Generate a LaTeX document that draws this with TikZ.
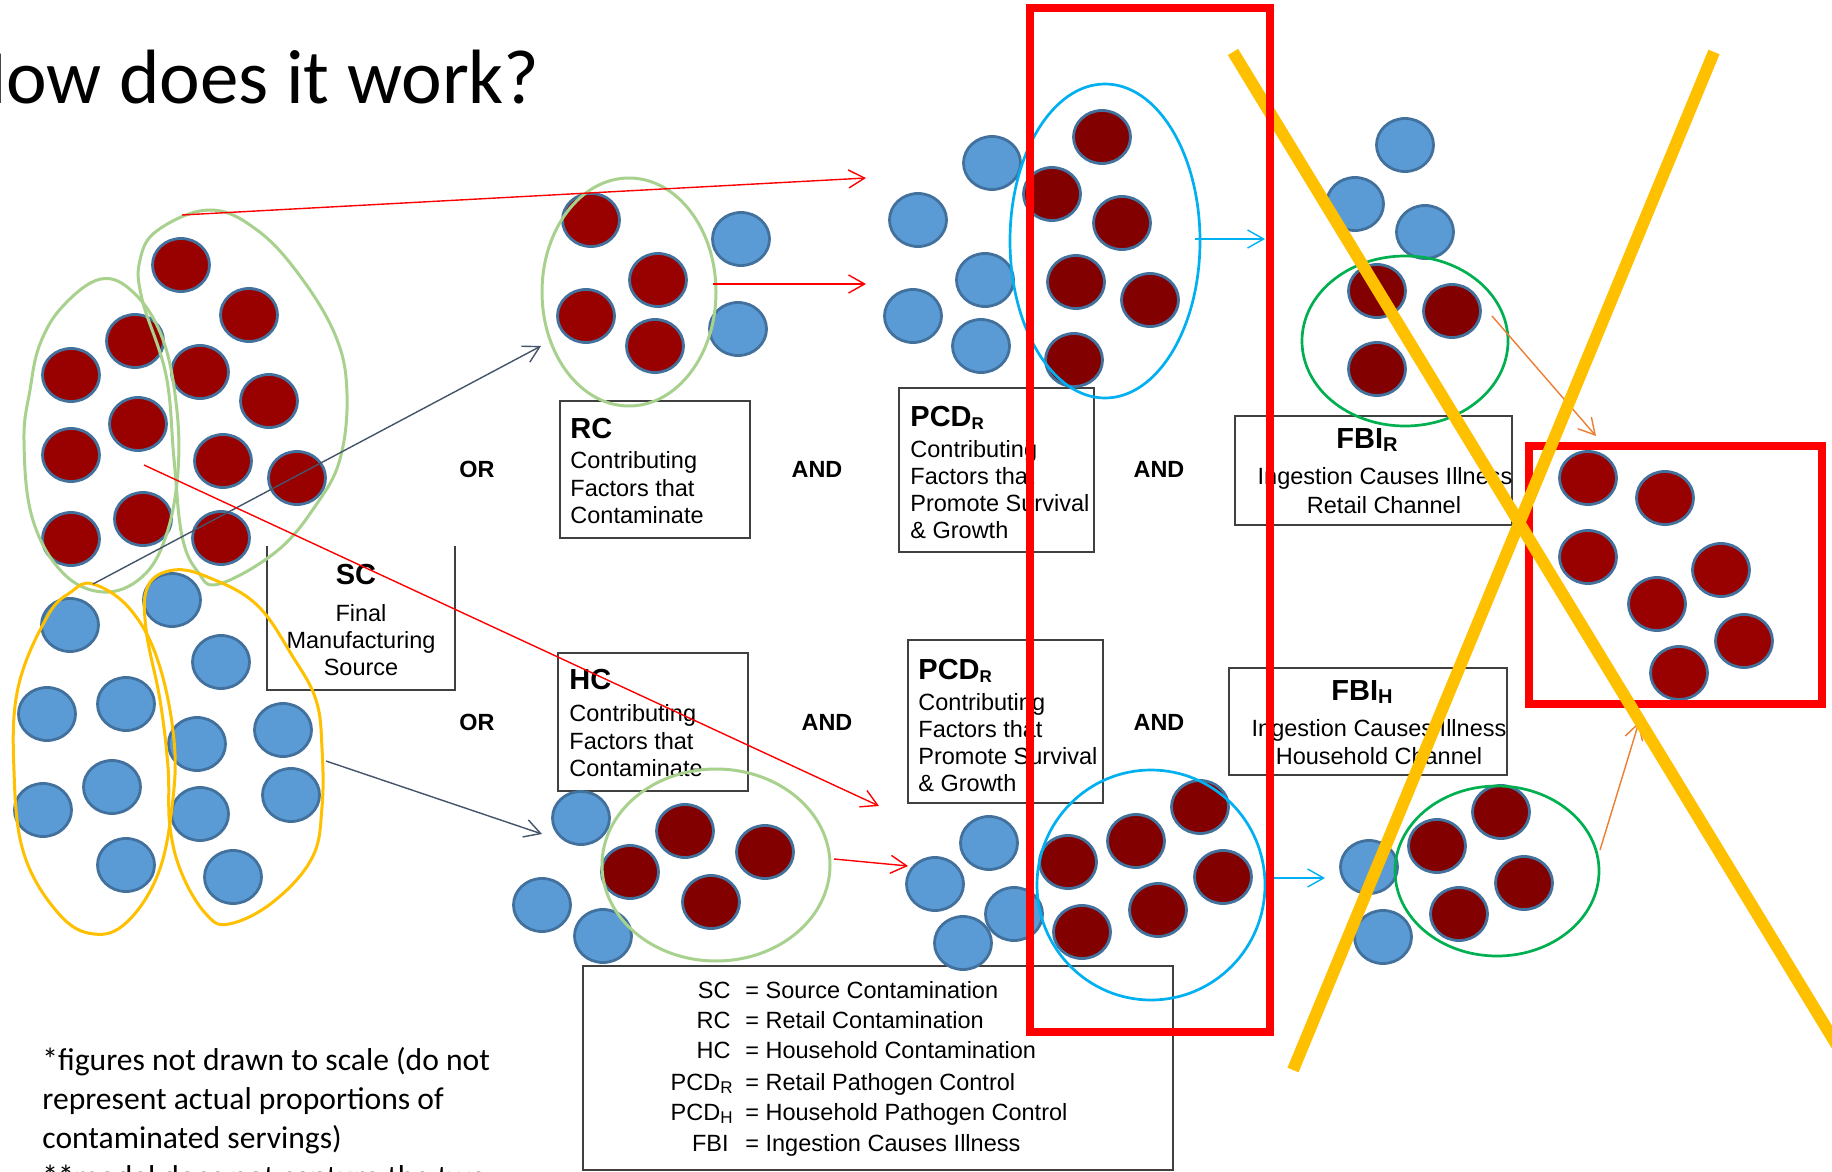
\documentclass[tikz,border=0pt]{standalone}
\usepackage{fontspec}
\setmainfont{Liberation Sans}
\newfontfamily\calfont{Carlito}
\usetikzlibrary{arrows.meta}
\definecolor{dotredA}{HTML}{990000}
\definecolor{dotredB}{HTML}{820000}
\definecolor{dotedge}{HTML}{41719C}
\definecolor{dotblue}{HTML}{5B9BD5}
\definecolor{lgreen}{HTML}{A9D18E}
\definecolor{fgreen}{HTML}{00B050}
\definecolor{cyanl}{HTML}{00B0F0}
\definecolor{goldl}{HTML}{FFC000}
\definecolor{slate}{HTML}{44546A}
\definecolor{orangel}{HTML}{ED7D31}
\definecolor{boxgray}{HTML}{404040}
\definecolor{redl}{HTML}{FF0000}
\begin{document}
\begin{tikzpicture}[x=0.5pt,y=-0.5pt,
  rdA/.style={fill=dotredA,draw=dotedge,line width=1.4pt},
  rdB/.style={fill=dotredB,draw=dotedge,line width=1.4pt},
  bd/.style={fill=dotblue,draw=dotedge,line width=1.4pt},
  boxst/.style={draw=boxgray,line width=0.7pt,inner sep=0pt,outer sep=0pt},
  bt/.style={font=\fontsize{11.75}{13.7}\selectfont,inner sep=0pt,anchor=base west},
  btc/.style={font=\fontsize{11.75}{13.7}\selectfont,inner sep=0pt,anchor=base},
  hd/.style={font=\fontsize{14.5}{16}\selectfont\bfseries,inner sep=0pt,anchor=base west},
  hdc/.style={font=\fontsize{14.5}{16}\selectfont\bfseries,inner sep=0pt,anchor=base},
  logic/.style={font=\fontsize{11.7}{13}\selectfont\bfseries,inner sep=0pt},
  lgl/.style={font=\fontsize{11.75}{13.7}\selectfont,inner sep=0pt,anchor=base east},
  lgr/.style={font=\fontsize{11.75}{13.7}\selectfont,inner sep=0pt,anchor=base west},
  foot/.style={font=\calfont\fontsize{15.8}{18}\selectfont,inner sep=0pt,anchor=base west},
  lgblob/.style={draw=lgreen,line width=1.5pt},
  ylblob/.style={draw=goldl,line width=1.5pt},
  cyblob/.style={draw=cyanl,line width=1.35pt},
  fgblob/.style={draw=fgreen,line width=1.35pt},
  conn/.style={line width=0.7pt,-{Straight Barb[length=8pt,width=9pt]}},
  redrect/.style={draw=redl,line width=4pt},
  cross/.style={draw=goldl,line width=6pt}
]
\useasboundingbox (0,0) rectangle (1832,1172);
\clip (0,0) rectangle (1832,1172);
\fill[white] (0,0) rectangle (1832,1172);

% title and footnote
\node[font=\calfont\fontsize{38.5}{40}\selectfont,anchor=base east,inner sep=0pt] (title) at (540,104) {How does it work?};
\node[foot] (f1) at (42,1070) {*figures not drawn to scale (do not};
\node[foot] (f2) at (42,1109) {represent actual proportions of};
\node[foot] (f3) at (42,1148) {contaminated servings)};
\node[foot] (f4) at (42,1187) {**model does not capture the two};

% boxes
\draw[boxgray,line width=0.7pt] (267,546) -- (267,690) -- (455,690) -- (455,546);
\node[boxst,minimum width=95pt,minimum height=68.5pt] (rcbox) at (655,469.5) {};
\node[boxst,minimum width=97.5pt,minimum height=82pt] (pcdrbox) at (996.5,470) {};
\node[boxst,minimum width=95pt,minimum height=69pt] (hcbox) at (653,722) {};
\node[boxst,minimum width=97.5pt,minimum height=81.5pt] (pcdhbox) at (1005.5,721.5) {};
\node[boxst,minimum width=138.5pt,minimum height=54.5pt] (fbirbox) at (1373.5,470.5) {};
\node[boxst,minimum width=139pt,minimum height=53.5pt] (fbihbox) at (1368,721.5) {};
\node[boxst,minimum width=295pt,minimum height=102pt] (legbox) at (878,1068) {};

% SC text
\node[hdc] (sct) at (356,584) {SC};
\node[btc] (sc1) at (361,621) {Final};
\node[btc] (sc2) at (361,648) {Manufacturing};
\node[btc] (sc3) at (361,675) {Source};
% RC text
\node[hd] (rct) at (570,438) {RC};
\node[bt] (rc1) at (570,468) {Contributing};
\node[bt] (rc2) at (570,496) {Factors that};
\node[bt] (rc3) at (570,523) {Contaminate};
% PCD upper
\node[hd] (pct) at (910,426) {PCD\raisebox{-1.7pt}{\fontsize{8.5}{9}\selectfont R}};
\node[bt] (pc1) at (910,457) {Contributing};
\node[bt] (pc2) at (910,484) {Factors that};
\node[bt] (pc3) at (910,511) {Promote Survival};
\node[bt] (pc4) at (910,538) {\& Growth};
% HC
\node[hd] (hct) at (569,689) {HC};
\node[bt] (hc1) at (569,721) {Contributing};
\node[bt] (hc2) at (569,749) {Factors that};
\node[bt] (hc3) at (569,776) {Contaminate};
% PCD lower
\node[hd] (pht) at (918,679) {PCD\raisebox{-1.7pt}{\fontsize{8.5}{9}\selectfont R}};
\node[bt] (ph1) at (918,710) {Contributing};
\node[bt] (ph2) at (918,737) {Factors that};
\node[bt] (ph3) at (918,764) {Promote Survival};
\node[bt] (ph4) at (918,791) {\& Growth};
% FBI R
\node[hdc] (frt) at (1367,448) {FBI\raisebox{-1.9pt}{\fontsize{10}{10}\selectfont R}};
\node[btc] (fr1) at (1385,484) {Ingestion Causes Illness};
\node[btc] (fr2) at (1384,513) {Retail Channel};
% FBI H
\node[hdc] (fht) at (1362,700) {FBI\raisebox{-1.9pt}{\fontsize{10}{10}\selectfont H}};
\node[btc] (fh1) at (1379,736) {Ingestion Causes Illness};
\node[btc] (fh2) at (1379,764) {Household Channel};

% logic words
\node[logic] (or1) at (477,469) {OR};
\node[logic] (or2) at (477,722) {OR};
\node[logic] (and1) at (817,469) {AND};
\node[logic] (and2) at (1159,469) {AND};
\node[logic] (and3) at (827,722) {AND};
\node[logic] (and4) at (1159,722) {AND};

% legend
\node[lgl] (l1) at (731,998) {SC};
\node[lgr] (l1t) at (745,998) {= Source Contamination};
\node[lgl] (l2) at (731,1028) {RC};
\node[lgr] (l2t) at (745,1028) {= Retail Contamination};
\node[lgl] (l3) at (731,1058) {HC};
\node[lgr] (l3t) at (745,1058) {= Household Contamination};
\node[lgl] (l4) at (733,1090) {PCD\raisebox{-1.5pt}{\fontsize{8.5}{9}\selectfont R}};
\node[lgr] (l4t) at (745,1090) {= Retail Pathogen Control};
\node[lgl] (l5) at (733,1120) {PCD\raisebox{-1.5pt}{\fontsize{8.5}{9}\selectfont H}};
\node[lgr] (l5t) at (745,1120) {= Household Pathogen Control};
\node[lgl] (l6) at (729,1151) {FBI};
\node[lgr] (l6t) at (745,1151) {= Ingestion Causes Illness};

% dots
\foreach \x/\y in {181/265,249/315,135/341,71/375,200/372,269/401,138/424,71/455,223/461,297/478,143/519,71/539,221/538,
  591/220,658/280,586/316,655/346,
  1588/478,1665/498,1588/557,1721/570,1657/604,1744/641,1679/673}
  \draw[rdA] (\x,\y) ellipse [x radius=28.5,y radius=26.5];
\foreach \x/\y in {1102/137,1052/194,1122/223,1076/282,1150/300,1074/360,
  1200/807,1136/841,1068/862,1223/877,1158/910,1082/932,
  685/831,630/872,765/852,711/902,
  1377/291,1452/311,1377/369,
  1501/812,1437/846,1524/883,1459/914}
  \draw[rdB] (\x,\y) ellipse [x radius=28.5,y radius=26.5];
\foreach \x/\y in {70/625,172/600,221/662,47/714,126/704,283/730,197/744,112/787,43/810,291/795,200/814,126/865,233/877,
  741/239,738/329,
  992/163,918/220,985/280,913/316,981/346,
  989/843,935/884,1014/914,963/943,
  581/818,542/905,603/936,
  1405/145,1355/204,1425/232,
  1369/867,1383/937}
  \draw[bd] (\x,\y) ellipse [x radius=28.5,y radius=26.5];

% blob outlines
\draw[lgblob] plot[smooth cycle,tension=0.65] coordinates {(101,279) (134,293) (162,337) (176,402) (178,471) (166,536) (142,577) (103,592) (62,572) (32,517) (24,440) (30,390) (40,344) (63,306)};
\draw[lgblob] plot[smooth cycle,tension=0.65] coordinates {(210,210) (257,230) (300,276) (336,337) (347,394) (340,459) (316,505) (277,551) (219,584) (198,572) (182,536) (174,459) (166,375) (142,299) (140,260) (158,230)};
\draw[ylblob] plot[smooth cycle,tension=0.65] coordinates {(93,584) (130,609) (158,661) (174,740) (172,807) (158,874) (127,922) (94,934) (59,914) (24,854) (14,771) (18,688) (47,617) (71,592)};
\draw[ylblob] plot[smooth cycle,tension=0.65] coordinates {(174,570) (210,578) (257,605) (293,657) (316,700) (322,748) (322,807) (312,858) (273,902) (229,924) (206,914) (182,874) (170,827) (168,767) (160,700) (146,629) (148,586)};
\draw[lgblob] (629,292) ellipse [x radius=87,y radius=114];
\draw[lgblob] (716,865) ellipse [x radius=114,y radius=96];
\draw[cyblob] (1105,241) ellipse [x radius=95,y radius=157];
\draw[cyblob] (1151,885) ellipse [x radius=114,y radius=115];
\draw[fgblob] (1405,341) ellipse [x radius=103,y radius=85];
\draw[fgblob] (1497,871) ellipse [x radius=102,y radius=85];

% connectors
\coordinate (c1s) at (93,584);   \coordinate (c1e) at (541,346);
\coordinate (c2s) at (326,761);  \coordinate (c2e) at (542,834);
\coordinate (r1s) at (182,215);  \coordinate (r1e) at (866,178);
\coordinate (r2s) at (713,284);  \coordinate (r2e) at (866,284);
\coordinate (r3s) at (144,465);  \coordinate (r3e) at (879,806);
\coordinate (r4s) at (834,859);  \coordinate (r4e) at (908,866);
\coordinate (k1s) at (1195,239); \coordinate (k1e) at (1265,239);
\coordinate (k2s) at (1273,878); \coordinate (k2e) at (1325,878);
\coordinate (o1s) at (1492,316); \coordinate (o1e) at (1596,436);
\coordinate (o2s) at (1600,850); \coordinate (o2e) at (1639,722);
\draw[conn,slate] (c1s) -- (c1e);
\draw[conn,slate] (c2s) -- (c2e);
\draw[conn,redl] (r1s) -- (r1e);
\draw[conn,redl] (r2s) -- (r2e);
\draw[conn,redl] (r3s) -- (r3e);
\draw[conn,redl] (r4s) -- (r4e);
\draw[conn,cyanl] (k1s) -- (k1e);
\draw[conn,cyanl] (k2s) -- (k2e);
\draw[conn,orangel] (o1s) -- (o1e);
\draw[conn,orangel] (o2s) -- (o2e);

% highlight marks
\draw[redrect] (1529,446) rectangle (1822,704);
\draw[cross] (1233,52) -- (1900,1149);
\draw[cross] (1714,52) -- (1293,1070);
\draw[redrect] (1030,8) rectangle (1270,1032);
\end{tikzpicture}
\end{document}
